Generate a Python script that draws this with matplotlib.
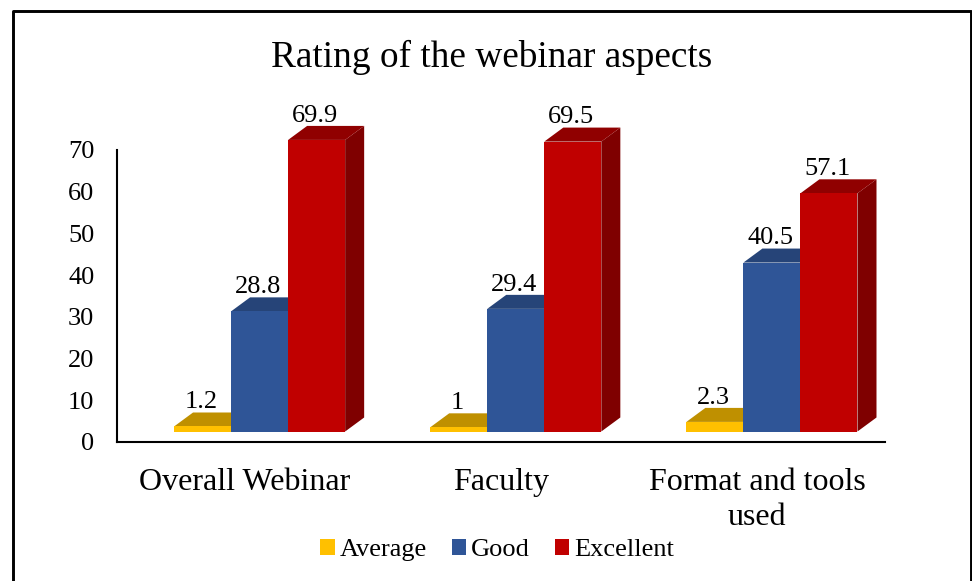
import matplotlib
matplotlib.use("Agg")
import matplotlib.pyplot as plt
import numpy as np
from matplotlib.lines import Line2D
from matplotlib.patches import Patch

categories = ["Overall Webinar", "Faculty", "Format and tools\nused"]
series_names = ["Average", "Good", "Excellent"]
average = [1.2, 1, 2.3]
good = [28.8, 29.4, 40.5]
excellent = [69.9, 69.5, 57.1]
y_ticks = [0, 10, 20, 30, 40, 50, 60, 70]

front_colors = ["#FFC000", "#2F5597", "#C00000"]
top_colors = ["#BF9000", "#264478", "#900000"]
side_colors = ["#7F6000", "#1F3864", "#7F0000"]

W, H = 972, 581
plt.rcParams["font.family"] = ["Liberation Serif", "DejaVu Serif"]

fig = plt.figure(figsize=(W / 100, H / 100), dpi=100, facecolor="white")
# axes box in pixels: x 116.5-885, y 150-442
ax = fig.add_axes([116.5 / W, 1 - 442 / H, (885 - 116.5) / W, (442 - 150) / H])
ax.set_xlim(-0.5, 2.5)
ax.set_ylim(0, 70)

px_x = 1 / 256  # data units per pixel
px_y = 70 / 292
bar_w = 57 * px_x
depth_x = 19 * px_x
depth_y = 14 * px_y
floor = 10.5 * px_y  # bars stand above the axis line
shift = 15 * px_x

# 3d look: front face from ax.bar, top and side faces as polygons
for s, values in enumerate([average, good, excellent]):
    for i, v in enumerate(values):
        left = i + shift + (s - 1.5) * bar_w
        right = left + bar_w
        top = floor + v
        ax.fill([right, right + depth_x, right + depth_x, right],
                [floor, floor + depth_y, top + depth_y, top],
                color=side_colors[s], lw=0, zorder=2 + s, clip_on=False)
        ax.fill([left, left + depth_x, right + depth_x, right],
                [top, top + depth_y, top + depth_y, top],
                color=top_colors[s], lw=0, zorder=2 + s, clip_on=False)
        ax.bar(left, v, width=bar_w, bottom=floor, align="edge",
               color=front_colors[s], lw=0, zorder=2 + s, clip_on=False)
        ax.annotate(str(v), (left + bar_w / 2, top + depth_y),
                    xytext=(-1, 3), textcoords="offset points",
                    ha="center", va="baseline", fontsize=19, color="black",
                    annotation_clip=False, zorder=10)

for side in ["top", "right"]:
    ax.spines[side].set_visible(False)
for side in ["left", "bottom"]:
    ax.spines[side].set_linewidth(1.5)
    ax.spines[side].set_color("black")

ax.set_yticks(y_ticks)
ax.set_xticks([0, 1, 2])
ax.set_xticklabels(categories, fontsize=23, linespacing=1.25)
ax.tick_params(axis="y", length=0, pad=16, labelsize=19)
ax.tick_params(axis="x", length=0, pad=19)

fig.text(492 / W, 1 - 57 / H, "Rating of the webinar aspects",
         ha="center", va="center", fontsize=26.8, color="black")

handles = [Patch(facecolor=c, edgecolor="none", label=n)
           for c, n in zip(front_colors, series_names)]
fig.legend(handles=handles, loc="center", bbox_to_anchor=(497 / W, 1 - 550 / H),
           ncol=3, frameon=False, fontsize=19, handlelength=0.55, handleheight=0.55,
           handletextpad=0.18, columnspacing=0.95, borderpad=0, labelcolor="black")

# outer frame, the bottom edge is cut off in the picture
fig.add_artist(Line2D([12.5 / W, 12.5 / W, 971 / W, 971 / W],
                      [0, 1 - 10.5 / H, 1 - 10.5 / H, 0],
                      transform=fig.transFigure, color="black", lw=2.1))

fig.savefig("out.png", dpi=100)
